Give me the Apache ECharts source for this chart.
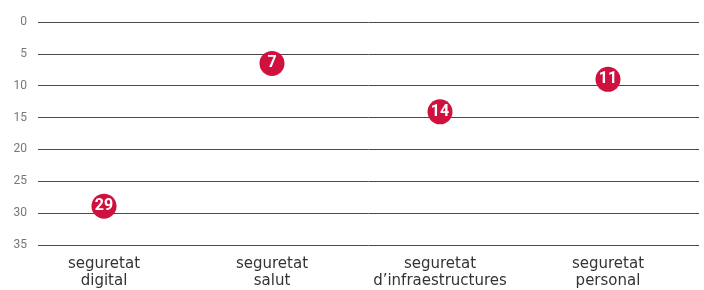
<!DOCTYPE html>
<html><head><meta charset="utf-8">
<script src="https://cdn.jsdelivr.net/npm/echarts@6/dist/echarts.min.js"></script>
<style>html,body{margin:0;padding:0;background:#fff}#c{width:704px;height:290px}</style>
</head><body><div id="c"></div>
<script>
const categories = ['seguretat\ndigital', 'seguretat\nsalut', 'seguretat\nd\u2019infraestructures', 'seguretat\npersonal'];
const positions = [28.9, 6.5, 14.1, 9.0];
const rankLabels = ['29', '7', '14', '11'];
const yTicks = [0, 5, 10, 15, 20, 25, 30, 35];

const chart = echarts.init(document.getElementById('c'));
const FONT = 'Roboto, "Noto Sans", sans-serif';
chart.setOption({
  animation: false,
  grid: [
    {left: 38, right: 5, top: 22, bottom: 45},
    {left: 20, right: 12, top: 22, bottom: 45}
  ],
  xAxis: [
    {gridIndex: 0, type: 'value', show: false, min: 0, max: 1},
    {gridIndex: 1, type: 'category', data: categories, boundaryGap: true,
     axisLine: {show: false}, axisTick: {show: false},
     axisLabel: {interval: 0, hideOverlap: false, color: '#333', fontSize: 15, fontFamily: '"DejaVu Sans", sans-serif', lineHeight: 17, margin: 11}}
  ],
  yAxis: [
    {gridIndex: 0, type: 'value', inverse: true, min: 0, max: 35, interval: 5,
     axisLine: {show: false}, axisTick: {show: false},
     axisLabel: {color: '#777', fontSize: 12, fontFamily: FONT, margin: 11, verticalAlign: 'middle', padding: [0, 0, 7, 0],
       formatter: v => yTicks.includes(v) ? String(v) : ''},
     splitLine: {show: true, lineStyle: {color: '#4a4a4a', width: 1}}},
    {gridIndex: 1, type: 'value', inverse: true, min: 0, max: 35, interval: 5, show: false, splitLine: {show: false}}
  ],
  series: [{
    type: 'scatter', xAxisIndex: 1, yAxisIndex: 1,
    data: positions.map((p, i) => ({value: [i, p], label: {formatter: rankLabels[i]}})),
    symbolSize: 25,
    itemStyle: {color: '#d0103f', opacity: 1},
    label: {show: true, position: 'inside', color: '#fff', fontSize: 16, fontWeight: 'bold', fontFamily: FONT},
    z: 5
  }]
});
</script></body></html>
